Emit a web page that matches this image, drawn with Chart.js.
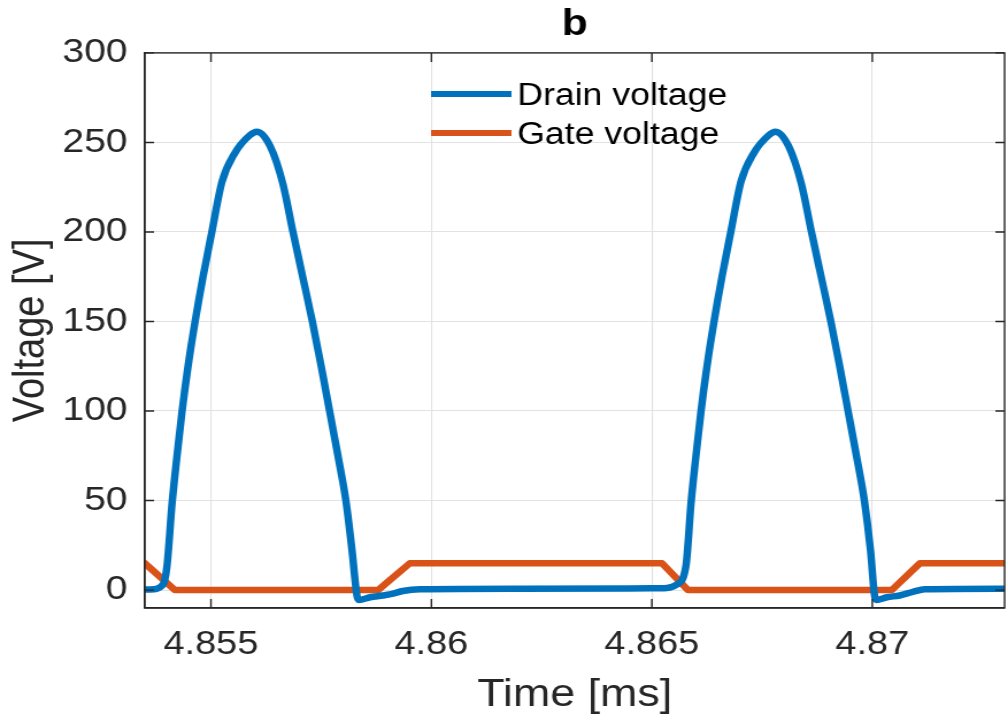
<!DOCTYPE html>
<html>
<head>
<meta charset="utf-8">
<script src="https://cdn.jsdelivr.net/npm/chart.js@4/dist/chart.umd.min.js"></script>
<style>
  html, body { margin: 0; padding: 0; background: #fff; overflow: hidden; }
  /* the reference figure is a little wider than tall, so stretch the canvas sideways */
  canvas { display: block; transform: scaleX(1.1494); transform-origin: 0 0; }
</style>
</head>
<body>
<canvas id="chart" width="877" height="720"></canvas>
<script>
// values (time in ms, voltage in V)
const drainTime = [4.85350, 4.85362, 4.85391, 4.85400, 4.85412, 4.85423, 4.85434, 4.85448, 4.85464, 4.85482,
  4.85502, 4.85525, 4.85554, 4.85588, 4.85604, 4.85634, 4.85663, 4.85686, 4.85708, 4.85730,
  4.85750, 4.85769, 4.85788, 4.85806, 4.85820, 4.85831, 4.85835, 4.85861, 4.85890, 4.85913,
  4.85935, 4.85974, 4.86200, 4.86500, 4.86534, 4.86556, 4.86577, 4.86589, 4.86600, 4.86611,
  4.86625, 4.86641, 4.86659, 4.86679, 4.86702, 4.86731, 4.86765, 4.86780, 4.86810, 4.86839,
  4.86862, 4.86884, 4.86906, 4.86926, 4.86945, 4.86964, 4.86982, 4.86996, 4.87005, 4.87009,
  4.87033, 4.87062, 4.87092, 4.87119, 4.87301];
const drainVolt = [0.3, 0.3, 3, 13, 49, 75, 99, 125, 150, 175,
  200, 228, 244, 254, 256, 248, 227, 200, 175, 150,
  125, 100, 75, 50, 22, -3, -5.5, -4, -3, -2,
  -0.5, 0.5, 0.8, 1, 1.2, 3, 13, 49, 75, 99,
  125, 150, 175, 200, 228, 244, 254, 256, 248, 227,
  200, 175, 150, 125, 100, 75, 50, 22, -3, -5.5,
  -4, -3, -1, 0.5, 0.8];

const gateTime = [4.85350, 4.85418, 4.85879, 4.85951, 4.86523, 4.86582, 4.87044, 4.87108, 4.87301];
const gateVolt = [15, 0, 0, 15, 15, 0, 0, 15, 15];

const seriesNames = ['Drain voltage', 'Gate voltage'];
const xTicksStep = 0.005;
const yTicksStep = 50;

const ink = '#262626';
const fontFamily = '"Liberation Sans", Arial, Helvetica, sans-serif';

function pairs(xs, ys) {
  return xs.map((x, i) => ({x: x, y: ys[i]}));
}

// MATLAB style box with inward tick marks
const axesBox = {
  id: 'axesBox',
  afterDatasetsDraw(chart) {
    const {ctx, chartArea: a, scales: {x, y}} = chart;
    ctx.save();
    ctx.strokeStyle = ink;
    ctx.lineWidth = 1.4;
    ctx.strokeRect(a.left, a.top, a.right - a.left, a.bottom - a.top);
    ctx.beginPath();
    x.ticks.forEach(t => {
      const px = x.getPixelForValue(t.value);
      ctx.moveTo(px, a.bottom); ctx.lineTo(px, a.bottom - 9);
      ctx.moveTo(px, a.top); ctx.lineTo(px, a.top + 9);
    });
    y.ticks.forEach(t => {
      const py = y.getPixelForValue(t.value);
      ctx.moveTo(a.left, py); ctx.lineTo(a.left + 8, py);
      ctx.moveTo(a.right, py); ctx.lineTo(a.right - 8, py);
    });
    ctx.stroke();
    ctx.restore();
  }
};

// legend without a frame, inside the plot
const innerLegend = {
  id: 'innerLegend',
  afterDraw(chart) {
    const ctx = chart.ctx;
    const x0 = 375, x1 = 445, tx = 450;
    const rows = [94, 133];
    ctx.save();
    ctx.font = '31px ' + fontFamily;
    ctx.textBaseline = 'middle';
    chart.data.datasets.forEach((ds, i) => {
      ctx.strokeStyle = ds.borderColor;
      ctx.lineWidth = 6;
      ctx.beginPath();
      ctx.moveTo(x0, rows[i]);
      ctx.lineTo(x1, rows[i]);
      ctx.stroke();
      ctx.fillStyle = '#000';
      ctx.fillText(ds.label, tx, rows[i] + 2);
    });
    ctx.restore();
  }
};

new Chart(document.getElementById('chart').getContext('2d'), {
  type: 'line',
  data: {
    datasets: [
      {
        label: seriesNames[0],
        data: pairs(drainTime, drainVolt),
        borderColor: '#0072BD',
        borderWidth: 6.5,
        pointRadius: 0,
        cubicInterpolationMode: 'monotone',
        borderJoinStyle: 'round',
        borderCapStyle: 'round'
      },
      {
        label: seriesNames[1],
        data: pairs(gateTime, gateVolt),
        borderColor: '#D95319',
        borderWidth: 6.5,
        pointRadius: 0,
        tension: 0,
        borderJoinStyle: 'round',
        borderCapStyle: 'round'
      }
    ]
  },
  options: {
    responsive: false,
    animation: false,
    layout: {padding: {right: 3}},
    plugins: {
      legend: {display: false},
      tooltip: {enabled: false},
      title: {
        display: true,
        text: 'b',
        fullSize: false,
        color: '#000',
        font: {family: fontFamily, size: 37, weight: 'bold'},
        padding: {top: 2.5, bottom: 6}
      }
    },
    scales: {
      x: {
        type: 'linear',
        min: 4.8535,
        max: 4.8730,
        ticks: {
          stepSize: xTicksStep,
          includeBounds: false,
          autoSkip: false,
          maxRotation: 0,
          color: ink,
          padding: 17,
          font: {family: fontFamily, size: 33},
          callback: v => String(+v.toFixed(3))
        },
        grid: {color: '#e2e2e2', lineWidth: 1.1, drawTicks: false},
        border: {color: ink, width: 1.4},
        title: {
          display: true,
          text: 'Time [ms]',
          color: ink,
          font: {family: fontFamily, size: 39},
          padding: {top: 0, bottom: 1}
        },
        afterFit: s => { s.height = 112; }
      },
      y: {
        min: -10,
        max: 300,
        ticks: {
          stepSize: yTicksStep,
          includeBounds: false,
          color: ink,
          padding: 15,
          font: {family: fontFamily, size: 34}
        },
        grid: {color: '#e2e2e2', lineWidth: 1.1, drawTicks: false},
        border: {color: ink, width: 1.4},
        title: {
          display: true,
          text: 'Voltage [V]',
          color: ink,
          font: {family: fontFamily, size: 38},
          padding: {top: 5, bottom: 0}
        },
        afterFit: s => { s.width = 126; }
      }
    }
  },
  plugins: [axesBox, innerLegend]
});
</script>
</body>
</html>
